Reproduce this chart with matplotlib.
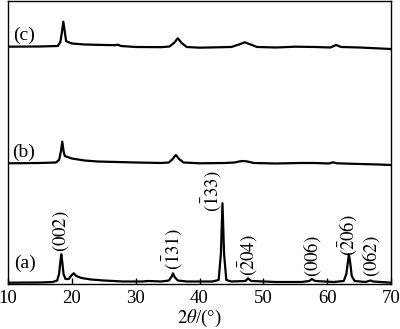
import matplotlib
matplotlib.use("Agg")
import matplotlib.pyplot as plt

plt.rcParams["font.family"] = ["Liberation Serif", "DejaVu Serif"]
plt.rcParams["mathtext.fontset"] = "stix"

# curve (a): 2theta (deg) and intensity (arbitrary)
a_x = [10, 15, 17, 17.7, 18.0, 18.2, 18.35, 18.5, 18.7, 19.0, 19.5, 20.0, 20.3,
       20.7, 21.5, 23, 25, 28, 31, 32, 34, 35.2, 35.6, 35.85, 36.1, 36.6, 38,
       42, 43.0, 43.35, 43.6, 43.85, 44.2, 45, 47.2, 47.6, 48.1, 52, 56, 57.2,
       57.6, 58.1, 61, 62.6, 63.0, 63.25, 63.4, 63.6, 63.85, 64.3, 66, 66.5,
       66.8, 67.2, 70]
a_y = [1.3, 1.5, 2, 3.5, 10, 22, 29.7, 22, 10, 5, 5, 9, 10.7,
       8, 6, 4.5, 3.5, 2.5, 2.5, 3, 2.5, 3.5, 7, 10.7, 7, 3.5, 2.5,
       2.5, 4, 30, 80.7, 30, 4, 2.5, 3, 5.7, 3, 2, 2, 3,
       5, 3, 2, 3, 10, 22, 29.7, 22, 8, 3, 2, 3,
       3.5, 2.5, 1.3]

# curve (b)
b_x = [10, 15, 17.5, 18.0, 18.3, 18.5, 18.7, 18.9, 19.2, 20, 22, 24, 27, 30,
       34, 35.2, 35.8, 36.3, 36.8, 37.5, 40, 44, 45.5, 46.2, 46.8, 47.5, 48.5,
       52, 56, 58, 60.3, 60.9, 61.5, 64, 68, 70]
b_y = [120.7, 121, 121.5, 124, 133, 142.3, 133, 128, 127.3, 125.5, 123.5,
       122.5, 122, 121.5, 121, 121.5, 125, 129, 125, 121.5, 120.7, 121, 121.5,
       122.5, 123, 122.5, 121, 120.5, 121, 121, 120.5, 121.7, 120.7, 120.2,
       119.5, 119]

# curve (c)
c_x = [10, 15, 17.8, 18.2, 18.45, 18.67, 18.9, 19.1, 19.4, 20, 22, 25, 26.8,
       27.2, 27.7, 30, 34, 35.3, 36.0, 36.6, 37.2, 38, 40, 45, 46.2, 47.1, 48,
       49, 52, 55, 58, 60.5, 61.4, 62.2, 65, 70]
c_y = [237.3, 237.5, 238, 242, 252, 262.3, 252, 243, 242, 240.5, 239.5, 239,
       238.8, 239.3, 238, 237, 236.8, 237.5, 241, 245.7, 241, 237, 236.3, 237,
       239.5, 241.7, 239.5, 237, 236.5, 237.3, 237, 236.5, 239, 237, 236.5, 235]

# sample labels and reflection labels
sample_names = ["(a)", "(b)", "(c)"]
sample_pos = [(12.7, 21), (12.4, 132), (12.5, 249)]
hkl_names = [r"$(002)$", r"$(\bar{1}31)$", r"$(\bar{1}33)$", r"$(\bar{2}04)$",
             r"$(006)$", r"$(\bar{2}06)$", r"$(062)$"]
hkl_pos = [(18.3, 53), (35.85, 35), (41.9, 93), (47.6, 29),
           (57.6, 28), (63.3, 49), (66.9, 28)]

fig = plt.figure(figsize=(4.0, 3.29), dpi=100)
ax = fig.add_axes([0.02, 0.1368, 0.9575, 0.8602])

for xs, ys in [(a_x, a_y), (b_x, b_y), (c_x, c_y)]:
    ax.plot(xs, ys, color="black", lw=1.6, solid_joinstyle="round")

for name, (px, py) in zip(sample_names, sample_pos):
    ax.text(px, py, name, fontsize=14, ha="center", va="center")

for name, (px, py) in zip(hkl_names, hkl_pos):
    ax.text(px, py, name, fontsize=13.5, ha="center", va="center", rotation=90)

ax.set_xlim(10, 70)
ax.set_ylim(0, 283)
ax.set_xticks(range(10, 71, 10))
ax.set_yticks([])
ax.tick_params(axis="x", direction="in", length=4, width=1, labelsize=13.5, pad=4)
for sp in ax.spines.values():
    sp.set_linewidth(1.0)
ax.set_xlabel(r"$2\theta$/(°)", fontsize=13.5, labelpad=1)

fig.savefig("out.png", dpi=100)
